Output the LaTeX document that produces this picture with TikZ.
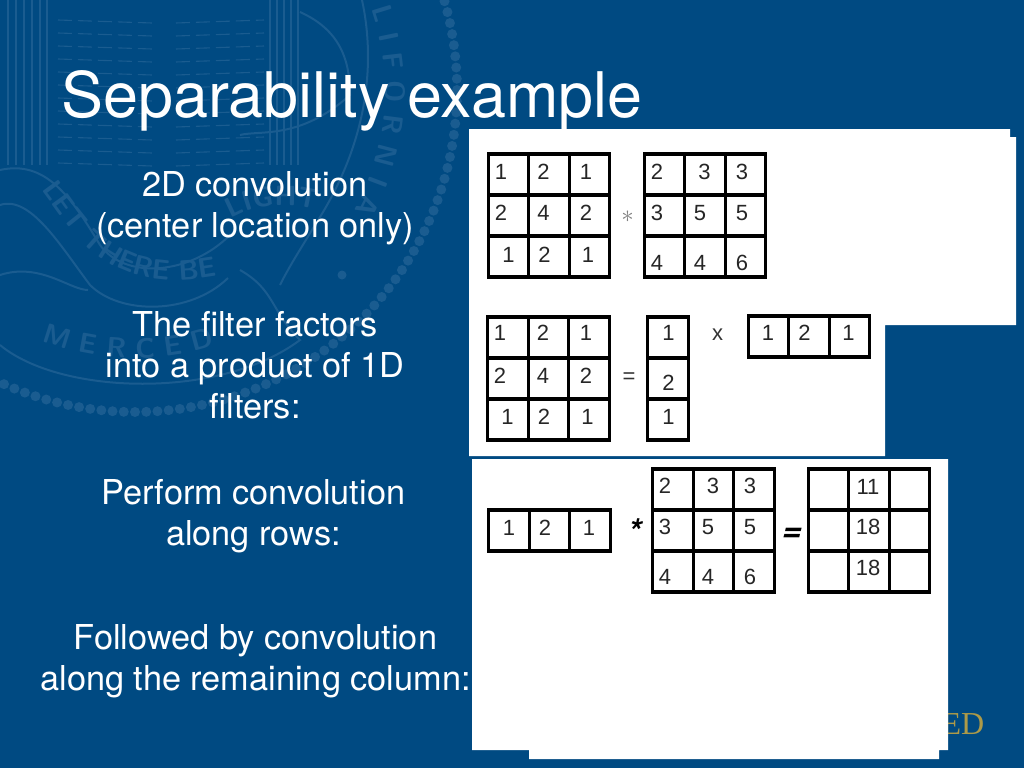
\documentclass[tikz,border=0pt]{standalone}
\usepackage{fontspec}
\setmainfont{TeX Gyre Heros}
\newfontfamily\gridfont{Liberation Sans}
\newfontfamily\sealfont{Liberation Serif}
\usetikzlibrary{matrix,decorations.text}
\definecolor{slideblue}{HTML}{004A82}
\definecolor{sealblue}{HTML}{1A5C90}
\definecolor{crestgold}{HTML}{AD9A48}
\newcommand{\dg}[3]{\raisebox{\dimexpr#2pt-7.5pt\relax}[0pt][0pt]{\makebox[0pt][c]{\hspace*{\dimexpr#1pt*2\relax}#3}}}
\tikzset{
	bodytext/.style={text=white,align=center,anchor=base,inner sep=0pt,font=\fontsize{34.3}{41}\selectfont},
	numgrid/.style={matrix of nodes,nodes in empty cells,inner sep=0pt,row sep=-3.2pt,column sep=-3.2pt,ampersand replacement=\&,
		nodes={draw=black,line width=3.2pt,minimum width=40.5pt,minimum height=41pt,inner sep=0pt,outer sep=0pt,anchor=center,text=black!85,font=\gridfont\fontsize{22}{22}\selectfont}},
	opsign/.style={text=black!80,inner sep=0pt,font=\gridfont\fontsize{22}{22}\selectfont},
	boldsign/.style={text=black,inner sep=0pt,font=\bfseries\itshape\fontsize{34}{34}\selectfont},
	sealline/.style={draw=sealblue,line width=2pt},
	sealtext/.style={decorate,decoration={text along path,text align=center,text={|\sffamily\bfseries\fontsize{28}{28}\selectfont\color{sealblue}|#1}}}
}
\begin{document}
\begin{tikzpicture}[x=1pt,y=-1pt]
	\useasboundingbox (0,0) rectangle (1024,768);
	\fill[slideblue] (0,0) rectangle (1024,768);

	\foreach \a in {-16,-14,...,116}
		\fill[sealblue] ({135+322*cos(\a)},{90+322*sin(\a)}) circle (5pt);
	\foreach \x in {8,16,24,32,40,47,270,277,284,291,298}
		\draw[sealline,line width=1.1pt] (\x,0) -- (\x,165);
	\foreach \y in {20,33,...,165} {
		\draw[sealline,line width=1.1pt,dash pattern=on 14pt off 6pt] (58,\y) -- (152,\y+3);
		\draw[sealline,line width=1.1pt,dash pattern=on 14pt off 6pt] (176,\y+3) -- (264,\y);
	}
	\draw[sealline] (0,170) .. controls (45,160) and (70,195) .. (100,245) .. controls (125,280) and (190,275) .. (230,235);
	\draw[sealline] (0,205) .. controls (30,195) and (60,245) .. (90,285) .. controls (120,315) and (190,315) .. (228,278);
	\draw[sealline] (0,275) .. controls (40,262) and (70,290) .. (88,290);
	\draw[sealline] (0,345) .. controls (60,395) and (220,400) .. (300,340) .. controls (270,310) and (275,290) .. (240,270);
	\draw[sealline] (362,0) .. controls (375,60) and (370,140) .. (315,225) .. controls (300,250) and (290,265) .. (280,285);
	\draw[sealline] (300,12) .. controls (340,30) and (350,60) .. (350,95) .. controls (300,140) and (260,130) .. (240,135);
	\fill[sealblue] (342,275) circle (4.5pt);
	\path[sealtext={C A L I F O R N I A}] plot[smooth,domain=-42:38,samples=25] ({135+250*cos(\x)},{90+250*sin(\x)});
	\path[sealtext={M E R C E D}] plot[smooth,domain=118:65,samples=25] ({135+268*cos(\x)},{90+268*sin(\x)});
	\path[sealtext={LET THERE BE}] (38,186) .. controls (70,225) and (100,300) .. (222,275);
	\path[sealtext={LIGHT}] (226,222) .. controls (250,205) and (290,200) .. (322,212);

	\node[text=white,anchor=base,inner sep=0pt,font=\fontsize{62.9}{62.9}\selectfont] (title) at (352,117) {Separability example};
	\node[bodytext] (conv) at (255,237) {2D convolution\\(center location only)};
	\node[bodytext] (factors) at (255,418) {The filter factors\\into a product of 1D\\filters:};
	\node[bodytext] (rows) at (253.5,545) {Perform convolution\\along rows:};
	\node[bodytext] (cols) at (255.5,690) {Followed by convolution\\along the remaining column:};
	\node[text=crestgold,anchor=base east,inner sep=0pt,font=\sealfont\fontsize{32}{32}\selectfont] (crest) at (984.5,734) {ED};

	\fill[white] (469,129) -| (1010,137) -| (1016,325) -| (885,456) -| cycle;
	\fill[white] (472,459) -| (948,750) -| (939,759) -| (529,750) -| cycle;

	\matrix (gridA) [numgrid] at (549,215.5) {
		\dg{-7.5}{2.5}{1} \& \dg{-5.5}{2.5}{2} \& \dg{-3.5}{2.5}{1} \\
		\dg{-7.5}{2.5}{2} \& \dg{-5.5}{2.5}{4} \& \dg{-3.5}{2.5}{2} \\
		\dg{0}{1.5}{1} \& \dg{-4.5}{1.5}{2} \& \dg{-1.5}{1.5}{1} \\};
	\matrix (gridB) [numgrid] at (705,215.5) {
		\dg{-7.5}{2.5}{2} \& \dg{-.5}{2.5}{3} \& \dg{-3.5}{2.5}{3} \\
		\dg{-7.5}{2.5}{3} \& \dg{-5}{2.5}{5} \& \dg{-3.5}{2.5}{5} \\
		\dg{-7.5}{-6.5}{4} \& \dg{-5}{-6.5}{4} \& \dg{-3.5}{-6.5}{6} \\};
	\matrix (gridC) [numgrid] at (548.5,378.5) {
		\dg{-8}{4.5}{1} \& \dg{-5.5}{4.5}{2} \& \dg{-3}{4.5}{1} \\
		\dg{-8}{2.5}{2} \& \dg{-5.5}{2.5}{4} \& \dg{-3}{2.5}{2} \\
		\dg{-.5}{2.5}{1} \& \dg{-4.5}{2.5}{2} \& \dg{-1.5}{2.5}{1} \\};
	\matrix (colD) [numgrid] at (668,378.5) {
		\dg{.5}{4.5}{1} \\
		\dg{.5}{-4.5}{2} \\
		\dg{.5}{2.5}{1} \\};
	\matrix (rowE) [numgrid] at (809,336.5) {
		\dg{-.5}{3.5}{1} \& \dg{-4.5}{3.5}{2} \& \dg{-1}{3.5}{1} \\};
	\matrix (rowF) [numgrid] at (549.5,530.5) {
		\dg{0}{2.5}{1} \& \dg{-4.5}{2.5}{2} \& \dg{-1}{2.5}{1} \\};
	\matrix (gridG) [numgrid] at (713.5,530.5) {
		\dg{-8}{3.5}{2} \& \dg{-.5}{3.5}{3} \& \dg{-4}{3.5}{3} \\
		\dg{-8}{3.5}{3} \& \dg{-5.5}{3.5}{5} \& \dg{-4}{3.5}{5} \\
		\dg{-8}{-5.5}{4} \& \dg{-5.5}{-5.5}{4} \& \dg{-4}{-5.5}{6} \\};
	\matrix (gridH) [numgrid] at (869,530.5) {
		\& \dg{-1}{2.5}{11} \& \\
		\& \dg{-1}{3.5}{18} \& \\
		\& \dg{-1}{3.5}{18} \& \\};

	\node[text=black!50,inner sep=0pt,font=\fontsize{42}{42}\selectfont] (astA) at (627.5,217) {$\ast$};
	\node[opsign] (eqC) at (629,378) {=};
	\node[opsign] (timesE) at (717.5,335) {x};
	\node[boldsign,anchor=base] (astF) at (635.5,543) {*};
	\node[boldsign,xslant=.25,transform shape] (eqF) at (792,535) {=};
\end{tikzpicture}
\end{document}
